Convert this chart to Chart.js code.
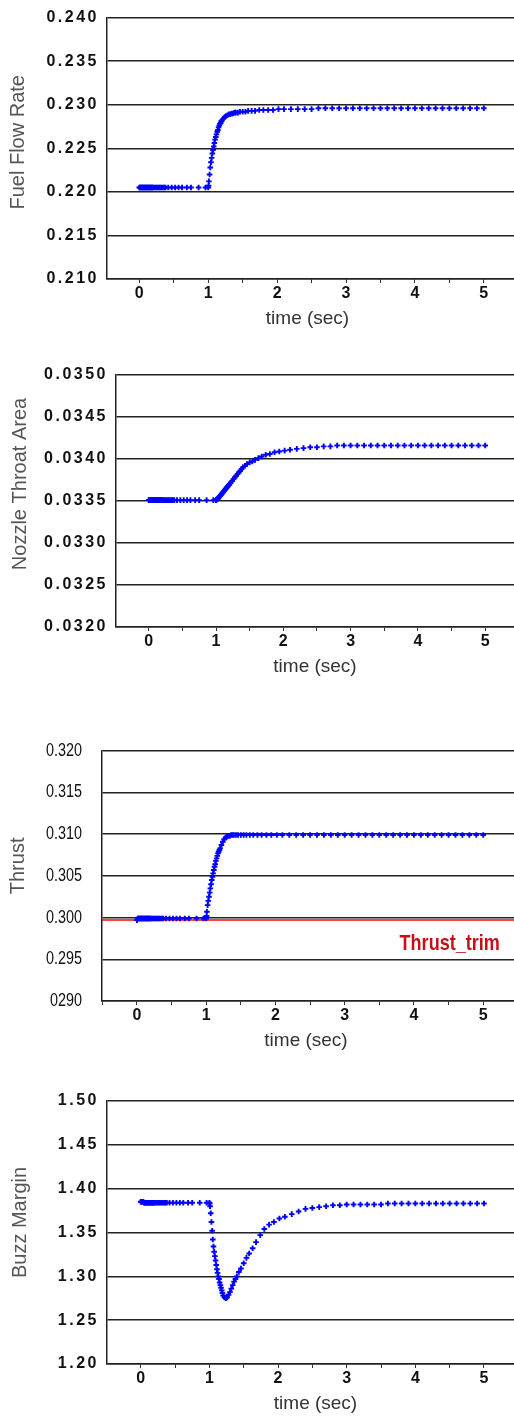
<!DOCTYPE html>
<html>
<head>
<meta charset="utf-8">
<title>Engine step response</title>
<script src="https://cdn.jsdelivr.net/npm/chart.js@4.4.1/dist/chart.umd.min.js"></script>
<style>
  html, body { margin: 0; padding: 0; background: #fff; }
  body { width: 514px; height: 1417px; position: relative; overflow: hidden; }
  .panel { position: absolute; left: 0; width: 514px; }
</style>
</head>
<body>
<div class="panel" style="top:0px;height:330px"><canvas id="fuelChart"></canvas></div>
<div class="panel" style="top:355px;height:323px"><canvas id="throatChart"></canvas></div>
<div class="panel" style="top:720px;height:332px"><canvas id="thrustChart"></canvas></div>
<div class="panel" style="top:1081px;height:334px"><canvas id="buzzChart"></canvas></div>
<script>
// simulation time stamps (variable step solver), shared by all four outputs
const time = [
    0, 0.01, 0.02, 0.03, 0.04, 0.05, 0.06, 0.07, 0.08, 0.09, 0.10, 0.11, 0.12, 0.13, 0.14, 0.15, 0.16, 0.17, 0.18, 0.19, 0.20,
    0.22, 0.24, 0.26, 0.28, 0.30, 0.32, 0.34, 0.36, 0.38,
    0.42, 0.47, 0.52, 0.57, 0.62, 0.69, 0.75, 0.86, 0.96, 1.00,
    1.005, 1.01, 1.02, 1.03, 1.04, 1.05, 1.06, 1.07, 1.08, 1.09, 1.10, 1.11, 1.12, 1.13, 1.14, 1.15, 1.16, 1.17, 1.18, 1.19, 1.20,
    1.22, 1.24, 1.26, 1.28, 1.30, 1.32, 1.34, 1.36, 1.38, 1.40,
    1.43, 1.46, 1.50, 1.54, 1.58, 1.63, 1.68, 1.74, 1.80, 1.87, 1.94, 2.02, 2.10,
    2.20, 2.30, 2.40, 2.50, 2.60, 2.70, 2.80, 2.90, 3.00,
    3.10, 3.20, 3.30, 3.40, 3.50, 3.60, 3.70, 3.80, 3.90, 4.00,
    4.10, 4.20, 4.30, 4.40, 4.50, 4.60, 4.70, 4.80, 4.90, 5.00
];

const fuelFlow = [
    0.2205, 0.2205, 0.2205, 0.2205, 0.2205, 0.2205, 0.2205, 0.2205, 0.2205, 0.2205, 0.2205, 0.2205, 0.2205, 0.2205, 0.2205, 0.2205, 0.2205, 0.2205, 0.2205, 0.2205, 0.2205,
    0.2205, 0.2205, 0.2205, 0.2205, 0.2205, 0.2205, 0.2205, 0.2205, 0.2205,
    0.2205, 0.2205, 0.2205, 0.2205, 0.2205, 0.2205, 0.2205, 0.2205, 0.2205, 0.2205,
    0.2207, 0.2212, 0.2220, 0.2228, 0.2234, 0.2239, 0.2244, 0.2248, 0.2252, 0.2256, 0.2260, 0.2263, 0.2266, 0.2269, 0.2271, 0.2274, 0.2276, 0.2278, 0.2279, 0.2281, 0.2282,
    0.2284, 0.2286, 0.2287, 0.2288, 0.2289, 0.2289, 0.2290, 0.2290, 0.2291, 0.2291,
    0.2291, 0.2292, 0.2292, 0.2292, 0.2293, 0.2293, 0.2293, 0.2294, 0.2294, 0.2294, 0.2294, 0.2295, 0.2295,
    0.2295, 0.2295, 0.2295, 0.2295, 0.2296, 0.2296, 0.2296, 0.2296, 0.2296,
    0.2296, 0.2296, 0.2296, 0.2296, 0.2296, 0.2296, 0.2296, 0.2296, 0.2296, 0.2296,
    0.2296, 0.2296, 0.2296, 0.2296, 0.2296, 0.2296, 0.2296, 0.2296, 0.2296, 0.2296
];

const throatArea = [
    0.03351, 0.03351, 0.03351, 0.03351, 0.03351, 0.03351, 0.03351, 0.03351, 0.03351, 0.03351, 0.03351, 0.03351, 0.03351, 0.03351, 0.03351, 0.03351, 0.03351, 0.03351, 0.03351, 0.03351, 0.03351,
    0.03351, 0.03351, 0.03351, 0.03351, 0.03351, 0.03351, 0.03351, 0.03351, 0.03351,
    0.03351, 0.03351, 0.03351, 0.03351, 0.03351, 0.03351, 0.03351, 0.03351, 0.03351, 0.03351,
    0.03351, 0.03352, 0.03352, 0.03353, 0.03354, 0.03355, 0.03356, 0.03357, 0.03358, 0.03359, 0.03360, 0.03361, 0.03362, 0.03363, 0.03364, 0.03365, 0.03366, 0.03367, 0.03368, 0.03369, 0.03370,
    0.03372, 0.03374, 0.03376, 0.03378, 0.03380, 0.03382, 0.03384, 0.03386, 0.03388, 0.03390,
    0.03392, 0.03394, 0.03396, 0.03397, 0.03399, 0.03401, 0.03403, 0.03405, 0.03406, 0.03408, 0.03409, 0.03410, 0.03411,
    0.03412, 0.03413, 0.03414, 0.03414, 0.03415, 0.03415, 0.03416, 0.03416, 0.03416,
    0.03416, 0.03416, 0.03416, 0.03416, 0.03416, 0.03416, 0.03416, 0.03416, 0.03416, 0.03416,
    0.03416, 0.03416, 0.03416, 0.03416, 0.03416, 0.03416, 0.03416, 0.03416, 0.03416, 0.03416
];

const thrust = [
    0.2997, 0.2999, 0.2999, 0.2999, 0.2999, 0.2999, 0.2999, 0.2999, 0.2999, 0.2999, 0.2999, 0.2999, 0.2999, 0.2999, 0.2999, 0.2999, 0.2999, 0.2999, 0.2999, 0.2999, 0.2999,
    0.2999, 0.2999, 0.2999, 0.2999, 0.2999, 0.2999, 0.2999, 0.2999, 0.2999,
    0.2999, 0.2999, 0.2999, 0.2999, 0.2999, 0.2999, 0.2999, 0.2999, 0.2999, 0.2999,
    0.3002, 0.3007, 0.3015, 0.3020, 0.3025, 0.3030, 0.3035, 0.3040, 0.3045, 0.3049, 0.3053, 0.3057, 0.3061, 0.3064, 0.3068, 0.3071, 0.3074, 0.3077, 0.3079, 0.3081, 0.3083,
    0.3087, 0.3091, 0.3094, 0.3096, 0.3097, 0.3098, 0.3098, 0.3099, 0.3099, 0.3099,
    0.3099, 0.3099, 0.3099, 0.3099, 0.3099, 0.3099, 0.3099, 0.3099, 0.3099, 0.3099, 0.3099, 0.3099, 0.3099,
    0.3099, 0.3099, 0.3099, 0.3099, 0.3099, 0.3099, 0.3099, 0.3099, 0.3099,
    0.3099, 0.3099, 0.3099, 0.3099, 0.3099, 0.3099, 0.3099, 0.3099, 0.3099, 0.3099,
    0.3099, 0.3099, 0.3099, 0.3099, 0.3099, 0.3099, 0.3099, 0.3099, 0.3099, 0.3099
];
const thrustTrim = 0.2997;

const buzzMargin = [
    1.385, 1.385, 1.385, 1.385, 1.385, 1.384, 1.384, 1.384, 1.384, 1.384, 1.384, 1.384, 1.384, 1.384, 1.384, 1.384, 1.384, 1.384, 1.384, 1.384, 1.384,
    1.384, 1.384, 1.384, 1.384, 1.384, 1.384, 1.384, 1.384, 1.384,
    1.384, 1.384, 1.384, 1.384, 1.384, 1.384, 1.384, 1.384, 1.384, 1.384,
    1.383, 1.380, 1.372, 1.362, 1.352, 1.342, 1.334, 1.328, 1.323, 1.318, 1.313, 1.308, 1.304, 1.300, 1.297, 1.293, 1.290, 1.287, 1.284, 1.281, 1.278,
    1.276, 1.275, 1.276, 1.279, 1.282, 1.286, 1.290, 1.294, 1.297, 1.300,
    1.305, 1.309, 1.315, 1.321, 1.326, 1.332, 1.339, 1.347, 1.354, 1.359, 1.362, 1.366, 1.368,
    1.371, 1.374, 1.377, 1.378, 1.379, 1.380, 1.381, 1.381, 1.382,
    1.382, 1.382, 1.382, 1.382, 1.382, 1.383, 1.383, 1.383, 1.383, 1.383,
    1.383, 1.383, 1.383, 1.383, 1.383, 1.383, 1.383, 1.383, 1.383, 1.383
];

// y tick labels as printed on the original figure (bottom to top)
const fuelTicks = ['0.210', '0.215', '0.220', '0.225', '0.230', '0.235', '0.240'];
const throatTicks = ['0.0320', '0.0325', '0.0330', '0.0335', '0.0340', '0.0345', '0.0350'];
const thrustTicks = ['0290', '0.295', '0.300', '0.305', '0.310', '0.315', '0.320'];
const buzzTicks = ['1.20', '1.25', '1.30', '1.35', '1.40', '1.45', '1.50'];

const FONT = "'Liberation Sans', Arial, sans-serif";

/**
 * Small tweaks Chart.js has no option for: letter spacing / horizontal
 * squeeze of the y tick labels and a nudge of the axis titles
 */
const axisTweaks = {
    id: 'axisTweaks',
    beforeDraw(chart, args, opts) {
        const y = chart.scales.y;
        const x = chart.scales.x;
        if (y._tweaked) return;
        y._tweaked = true;
        const drawLabels = y.drawLabels;
        const drawTitleY = y.drawTitle;
        const drawTitleX = x.drawTitle;
        y.drawLabels = function(area) {
            const ctx = this.ctx;
            ctx.save();
            ctx.letterSpacing = opts.spacing || '0px';
            if (opts.squeeze) {
                const ax = this.right - this.options.ticks.padding;
                ctx.translate(ax, 0);
                ctx.scale(opts.squeeze, 1);
                ctx.translate(-ax, 0);
            }
            drawLabels.call(this, area);
            ctx.restore();
        };
        y.drawTitle = function() {
            this.ctx.save();
            this.ctx.translate(0, opts.yTitleShift || 0);
            drawTitleY.call(this);
            this.ctx.restore();
        };
        x.drawTitle = function() {
            this.ctx.save();
            this.ctx.translate(opts.xTitleShift || 0, 0);
            drawTitleX.call(this);
            this.ctx.restore();
        };
    }
};

/**
 * Text label for the reference (trim) line
 */
const trimLabel = {
    id: 'trimLabel',
    afterDatasetsDraw(chart, args, opts) {
        const { ctx, scales: { x, y } } = chart;
        const px = x.getPixelForValue(opts.at);
        const py = y.getPixelForValue(opts.value) + opts.offset;
        ctx.save();
        ctx.translate(px, py);
        ctx.scale(opts.squeeze, 1);
        ctx.font = opts.font;
        ctx.fillStyle = opts.color;
        ctx.textAlign = 'right';
        ctx.textBaseline = 'middle';
        ctx.fillText(opts.text, 0, 0);
        ctx.restore();
    }
};

function makeChart(id, values, cfg) {
    const points = time.map((t, i) => ({ x: t, y: values[i] }));
    const datasets = [{
        data: points,
        showLine: false,
        pointStyle: 'cross',
        pointRadius: 2.8,
        pointBorderWidth: 1.9,
        borderColor: '#0000ff',
        backgroundColor: '#0000ff'
    }];
    if (cfg.extra) datasets.push(cfg.extra);

    return new Chart(document.getElementById(id), {
        type: 'scatter',
        data: { datasets: datasets },
        plugins: [axisTweaks, trimLabel],
        options: {
            responsive: true,
            maintainAspectRatio: false,
            animation: false,
            events: [],
            layout: { autoPadding: false, padding: { top: cfg.top, left: 0, right: 0, bottom: 0 } },
            plugins: {
                legend: { display: false },
                tooltip: { enabled: false },
                axisTweaks: {
                    spacing: cfg.spacing, squeeze: cfg.squeeze,
                    yTitleShift: cfg.yTitleShift, xTitleShift: cfg.xTitleShift
                },
                trimLabel: cfg.trim || false
            },
            scales: {
                x: {
                    type: 'linear',
                    min: cfg.xMin,
                    max: cfg.xMax,
                    afterFit: function(scale) { scale.height = 51; },
                    grid: { drawOnChartArea: false, drawTicks: true, tickLength: 4, color: '#333', lineWidth: 1 },
                    border: { color: '#222', width: 1.5 },
                    ticks: {
                        stepSize: 0.5,
                        includeBounds: false,
                        autoSkip: false,
                        maxRotation: 0,
                        padding: 1,
                        color: '#111',
                        font: { family: FONT, size: 16, weight: 'bold' },
                        callback: function(value) {
                            return Number.isInteger(value) ? String(value) : '';
                        }
                    },
                    title: {
                        display: true,
                        text: 'time (sec)',
                        color: '#333',
                        font: { family: FONT, size: 19 },
                        padding: { top: 0, bottom: 0 }
                    }
                },
                y: {
                    min: cfg.yMin,
                    max: cfg.yMax,
                    afterFit: function(scale) { scale.width = cfg.yWidth; },
                    grid: { drawTicks: false, color: '#222', lineWidth: 1.5 },
                    border: { color: '#222', width: 1.5 },
                    ticks: {
                        stepSize: cfg.yStep,
                        padding: cfg.tickPad,
                        color: '#111',
                        font: cfg.tickFont || { family: FONT, size: 16, weight: 'bold' },
                        callback: function(value, index) {
                            return cfg.labels[index];
                        }
                    },
                    title: {
                        display: true,
                        text: cfg.title,
                        color: '#555',
                        font: { family: FONT, size: 20 },
                        padding: { top: cfg.titlePad, bottom: 0 }
                    }
                }
            }
        }
    });
}

makeChart('fuelChart', fuelFlow, {
    top: 16, yWidth: 107, xMin: -0.469, xMax: 5.438,
    yMin: 0.210, yMax: 0.240, yStep: 0.005, labels: fuelTicks,
    title: 'Fuel Flow Rate', titlePad: 6.5, tickPad: 8, spacing: '2.5px',
    yTitleShift: -6, xTitleShift: -3
});

makeChart('throatChart', throatArea, {
    top: 20, yWidth: 116, xMin: -0.486, xMax: 5.428,
    yMin: 0.0320, yMax: 0.0350, yStep: 0.0005, labels: throatTicks,
    title: 'Nozzle Throat Area', titlePad: 8, tickPad: 8, spacing: '2.5px',
    yTitleShift: -17, xTitleShift: 0
});

makeChart('thrustChart', thrust, {
    top: 20, yWidth: 102, xMin: -0.505, xMax: 5.445,
    yMin: 0.290, yMax: 0.320, yStep: 0.005, labels: thrustTicks,
    title: 'Thrust', titlePad: 6.5, tickPad: 20, spacing: '0px', squeeze: 0.8,
    tickFont: { family: FONT, size: 18 },
    yTitleShift: -10, xTitleShift: -2,
    extra: {
        data: [{ x: -0.505, y: thrustTrim }, { x: 5.445, y: thrustTrim }],
        showLine: true,
        pointRadius: 0,
        borderColor: '#ff0000',
        borderWidth: 1.5
    },
    trim: {
        text: 'Thrust_trim', value: thrustTrim, at: 5.24, offset: 24, squeeze: 0.82,
        color: '#c41018', font: "bold 22px " + FONT
    }
});

makeChart('buzzChart', buzzMargin, {
    top: 20, yWidth: 107, xMin: -0.491, xMax: 5.437,
    yMin: 1.20, yMax: 1.50, yStep: 0.05, labels: buzzTicks,
    title: 'Buzz Margin', titlePad: 8, tickPad: 8, spacing: '2.5px',
    yTitleShift: -10, xTitleShift: 5
});
</script>
</body>
</html>
